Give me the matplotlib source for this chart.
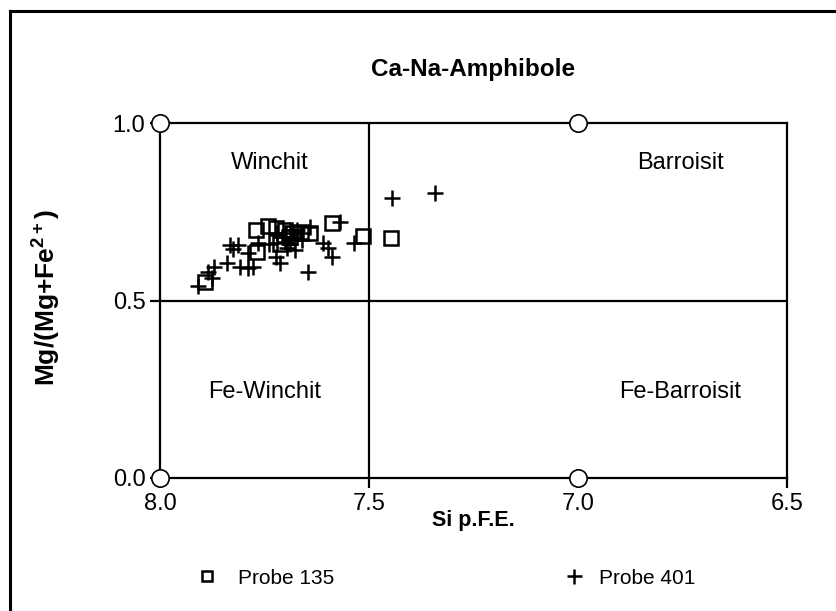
import numpy as np
import matplotlib.pyplot as plt
from matplotlib.lines import Line2D

plt.rcParams['font.family'] = ['Liberation Sans', 'DejaVu Sans']
plt.rcParams['mathtext.fontset'] = 'custom'
plt.rcParams['mathtext.rm'] = 'Liberation Sans'
plt.rcParams['mathtext.bf'] = 'Liberation Sans:bold'

# Probe 135 (Si p.F.E., Mg/(Mg+Fe2+))
si_135 = [7.893, 7.770, 7.741, 7.769, 7.722, 7.700, 7.683, 7.663, 7.641, 7.589, 7.514, 7.447, 7.712, 7.690]
mg_135 = [0.553, 0.700, 0.710, 0.637, 0.703, 0.698, 0.690, 0.694, 0.689, 0.717, 0.682, 0.675, 0.660, 0.680]

# Probe 401
si_401 = [7.908, 7.884, 7.876, 7.870, 7.840, 7.833, 7.813, 7.809, 7.789, 7.789,
          7.777, 7.765, 7.740, 7.722, 7.713, 7.721, 7.709, 7.700, 7.689, 7.673,
          7.697, 7.677, 7.661, 7.641, 7.660, 7.680, 7.700, 7.645, 7.609, 7.597,
          7.589, 7.569, 7.537, 7.445, 7.342, 7.720, 7.690, 7.825]
mg_401 = [0.540, 0.581, 0.563, 0.595, 0.605, 0.656, 0.656, 0.595, 0.591, 0.633,
          0.595, 0.661, 0.660, 0.623, 0.605, 0.661, 0.680, 0.690, 0.699, 0.699,
          0.647, 0.642, 0.670, 0.708, 0.690, 0.675, 0.665, 0.581, 0.661, 0.647,
          0.623, 0.722, 0.661, 0.788, 0.803, 0.690, 0.660, 0.645]

corner_si = [8.0, 7.0, 8.0, 7.0]
corner_mg = [1.0, 1.0, 0.0, 0.0]

fields = ['Winchit', 'Barroisit', 'Fe-Winchit', 'Fe-Barroisit']
field_si = [7.737, 6.754, 7.749, 6.756]
field_mg = [0.887, 0.887, 0.242, 0.242]

fig = plt.figure(figsize=(8.36, 6.11), dpi=100)
ax = fig.add_axes([160 / 836, 133 / 611, 627 / 836, 355 / 611])

lw = 1.6
ax.axvline(7.5, color='k', lw=lw, zorder=1)
ax.axhline(0.5, color='k', lw=lw, zorder=1)

h135, = ax.plot(si_135, mg_135, ls='none', marker='s', ms=9.5, mfc='none', mec='k', mew=1.8,
                label='Probe 135', zorder=3)
h401, = ax.plot(si_401, mg_401, ls='none', marker='+', ms=12, mec='k', mew=1.8,
                label='Probe 401', zorder=3)
ax.plot(corner_si, corner_mg, ls='none', marker='o', ms=12.5, mfc='white', mec='k', mew=1.2,
        clip_on=False, zorder=5)

for name, sx, my in zip(fields, field_si, field_mg):
    ax.text(sx, my, name, ha='center', va='center', fontsize=17)

ax.set_xlim(8.0, 6.5)
ax.set_ylim(0.0, 1.0)
ax.set_xticks([8.0, 7.5, 7.0, 6.5])
ax.set_yticks([0.0, 0.5, 1.0])
ax.set_xticklabels(['8.0', '7.5', '7.0', '6.5'])
ax.set_yticklabels(['0.0', '0.5', '1.0'])
ax.tick_params(direction='out', length=7.5, width=lw, labelsize=17, pad=3)
for sp in ax.spines.values():
    sp.set_linewidth(lw)

ax.set_xlabel('Si p.F.E.', fontsize=15.5, fontweight='bold', va='center')
ax.xaxis.set_label_coords(0.5, -0.121)
ax.set_ylabel(r'Mg/(Mg+Fe$^{\mathbf{2+}}$)', fontsize=19, fontweight='bold', va='center')
ax.yaxis.set_label_coords(-0.183, 0.51)
ax.set_title('Ca-Na-Amphibole', fontsize=17.5, fontweight='bold', pad=34)

# legend entries placed separately, one per sample
fig.legend(handles=[h135], loc='center left', bbox_to_anchor=(197 / 836, 1 - 578 / 611),
           frameon=False, fontsize=15, borderpad=0, borderaxespad=0,
           handlelength=1.0, handletextpad=0.95, markerscale=0.75)
fig.legend(handles=[h401], loc='center left', bbox_to_anchor=(564 / 836, 1 - 578 / 611),
           frameon=False, fontsize=15, borderpad=0, borderaxespad=0,
           handlelength=1.0, handletextpad=0.7, markerscale=0.9)

# outer frame (top and left edges)
fig.add_artist(Line2D([9.5 / 836, 9.5 / 836], [0, 1 - 10.5 / 611], color='k', lw=2.2,
                      transform=fig.transFigure))
fig.add_artist(Line2D([9.5 / 836, 1], [1 - 10.5 / 611, 1 - 10.5 / 611], color='k', lw=2.2,
                      transform=fig.transFigure))

fig.savefig('out.png', dpi=100, facecolor='white')
